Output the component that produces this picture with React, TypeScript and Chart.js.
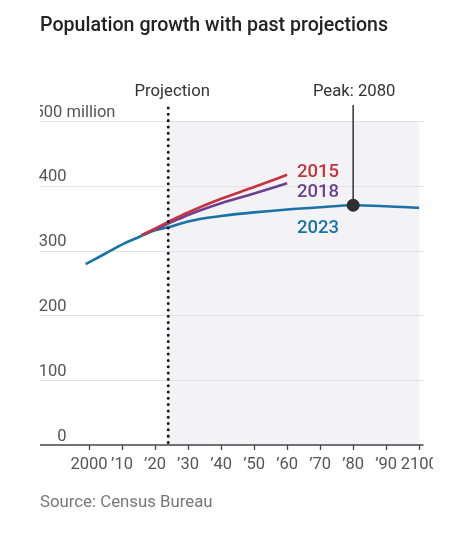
import React, { useEffect, useRef } from "react";
import { Chart, registerables } from "chart.js";

Chart.register(...registerables);

const years2023 = [1999, 2005, 2010, 2015, 2020, 2024, 2030, 2035, 2040, 2050, 2060, 2070, 2080, 2090, 2100];
const pop2023 = [279, 295.5, 309.3, 320.7, 331.5, 336, 345, 350, 353.5, 359, 363.5, 367, 370, 368.5, 366];

const years2015 = [2016, 2020, 2025, 2030, 2040, 2050, 2060];
const pop2015 = [324, 334, 347, 359, 380, 398, 417];

const years2018 = [2016, 2020, 2025, 2030, 2040, 2050, 2060];
const pop2018 = [324, 333, 344, 355, 373, 388, 404];

const xTickValues = [2000, 2010, 2020, 2030, 2040, 2050, 2060, 2070, 2080, 2090, 2100];
const xTickLabels = ["2000", "’10", "’20", "’30", "’40", "’50", "’60", "’70", "’80", "’90", "2100"];
const yTickValues = [0, 100, 200, 300, 400, 500];
const yTickLabels = ["0", "100", "200", "300", "400", "500 million"];

const projectionYear = 2024;
const peakYear = 2080;
const peakValue = 370;

const seriesNames = ["2015", "2018", "2023"];
const seriesColors = ["#c8323f", "#6b3f92", "#1872a5"];

const FONT = "Roboto, 'Noto Sans', sans-serif";

const overlay = {
  id: "overlay",
  beforeDatasetsDraw(chart: any) {
    const { ctx } = chart;
    const xs = chart.scales.x;
    const ys = chart.scales.y;
    const left = chart.chartArea.left;
    const right = chart.chartArea.right;
    ctx.save();
    // shaded projection region
    ctx.fillStyle = "#f3f3f5";
    const px0 = xs.getPixelForValue(projectionYear);
    const px1 = xs.getPixelForValue(2100);
    ctx.fillRect(px0, ys.getPixelForValue(500), px1 - px0, ys.getPixelForValue(0) - ys.getPixelForValue(500));
    // gridlines
    ctx.strokeStyle = "#e2e2e2";
    ctx.lineWidth = 1.2;
    yTickValues.forEach((v) => {
      if (v === 0) return;
      const y = Math.round(ys.getPixelForValue(v)) + 0.5;
      ctx.beginPath();
      ctx.moveTo(left, y);
      ctx.lineTo(right, y);
      ctx.stroke();
    });
    // y tick labels
    ctx.font = `16.5px ${FONT}`;
    ctx.fillStyle = "#555";
    ctx.textBaseline = "alphabetic";
    yTickValues.forEach((v, i) => {
      const y = ys.getPixelForValue(v) - 4.5;
      if (v === 500) {
        ctx.save();
        ctx.beginPath();
        ctx.rect(40, y - 20, 200, 30);
        ctx.clip();
        ctx.textAlign = "left";
        ctx.fillText(yTickLabels[i], 34.5, y);
        ctx.restore();
      } else {
        ctx.textAlign = "right";
        ctx.fillText(yTickLabels[i], 66.5, y);
      }
    });
    // x axis
    const y0 = ys.getPixelForValue(0);
    ctx.strokeStyle = "#444";
    ctx.lineWidth = 1.6;
    ctx.beginPath();
    ctx.moveTo(left, y0);
    ctx.lineTo(right, y0);
    ctx.stroke();
    ctx.lineWidth = 1.3;
    xTickValues.forEach((v) => {
      const x = Math.round(xs.getPixelForValue(v)) + 0.5;
      ctx.beginPath();
      ctx.moveTo(x, y0);
      ctx.lineTo(x, y0 + 5);
      ctx.stroke();
    });
    ctx.save();
    ctx.beginPath();
    ctx.rect(0, 0, 433, 534);
    ctx.clip();
    ctx.fillStyle = "#555";
    ctx.textAlign = "center";
    ctx.textBaseline = "middle";
    xTickValues.forEach((v, i) => {
      ctx.fillText(xTickLabels[i], xs.getPixelForValue(v), y0 + 19.5);
    });
    ctx.restore();
    ctx.restore();
  },
  afterDatasetsDraw(chart: any) {
    const { ctx } = chart;
    const xs = chart.scales.x;
    const ys = chart.scales.y;
    ctx.save();
    // projection dotted line
    const px = xs.getPixelForValue(projectionYear);
    ctx.strokeStyle = "#1a1a1a";
    ctx.lineWidth = 3;
    ctx.lineCap = "round";
    ctx.setLineDash([0.01, 6.3]);
    ctx.beginPath();
    ctx.moveTo(px, 108);
    ctx.lineTo(px, ys.getPixelForValue(0) - 2);
    ctx.stroke();
    ctx.setLineDash([]);
    ctx.lineCap = "butt";
    // peak
    const kx = xs.getPixelForValue(peakYear);
    const ky = ys.getPixelForValue(peakValue);
    ctx.strokeStyle = "#333";
    ctx.lineWidth = 1.5;
    ctx.beginPath();
    ctx.moveTo(kx, 105);
    ctx.lineTo(kx, ky);
    ctx.stroke();
    ctx.fillStyle = "#2e2e2e";
    ctx.beginPath();
    ctx.arc(kx, ky, 6.5, 0, Math.PI * 2);
    ctx.fill();
    // annotation labels
    ctx.font = `16.7px ${FONT}`;
    ctx.fillStyle = "#333";
    ctx.textAlign = "center";
    ctx.textBaseline = "middle";
    ctx.fillText("Projection", px + 4, 92);
    ctx.fillText("Peak: 2080", kx + 1, 92);
    // series labels
    ctx.font = `500 18.5px ${FONT}`;
    ctx.textAlign = "left";
    ctx.fillStyle = seriesColors[0];
    ctx.fillText(seriesNames[0], 297, 172);
    ctx.fillStyle = seriesColors[1];
    ctx.fillText(seriesNames[1], 297, 192);
    ctx.fillStyle = seriesColors[2];
    ctx.fillText(seriesNames[2], 297, 228.5);
    // title & source
    ctx.textBaseline = "alphabetic";
    ctx.fillStyle = "#222";
    ctx.font = `500 19.6px ${FONT}`;
    ctx.fillText("Population growth with past projections", 40, 30.5);
    ctx.fillStyle = "#777";
    ctx.font = `16.8px ${FONT}`;
    ctx.fillText("Source: Census Bureau", 40, 506.5);
    ctx.restore();
  },
};

export default function App() {
  const ref = useRef<HTMLCanvasElement>(null);
  useEffect(() => {
    if (!ref.current) return;
    const mk = (xsArr: number[], ysArr: number[]) => xsArr.map((x, i) => ({ x, y: ysArr[i] }));
    const lineOpts = { borderWidth: 2.6, pointRadius: 0, cubicInterpolationMode: "monotone", fill: false };
    const chart = new Chart(ref.current, {
      type: "line",
      data: {
        datasets: [
          { label: seriesNames[0], data: mk(years2015, pop2015), borderColor: seriesColors[0], ...lineOpts },
          { label: seriesNames[1], data: mk(years2018, pop2018), borderColor: seriesColors[1], ...lineOpts },
          { label: seriesNames[2], data: mk(years2023, pop2023), borderColor: seriesColors[2], ...lineOpts },
        ],
      },
      options: {
        responsive: false,
        animation: false,
        devicePixelRatio: 1,
        layout: { padding: { left: 40, right: 50.5, top: 121, bottom: 89 } },
        plugins: { legend: { display: false }, tooltip: { enabled: false } },
        scales: {
          x: { type: "linear", min: 1985.17, max: 2101.3, display: false },
          y: { type: "linear", min: 0, max: 500, display: false },
        },
      } as any,
      plugins: [overlay],
    });
    return () => chart.destroy();
  }, []);
  return (
    <div style={{ position: "fixed", left: 0, top: 0, width: 474, height: 534, background: "#fff" }}>
      <canvas ref={ref} width={474} height={534} style={{ display: "block", width: 474, height: 534 }} />
    </div>
  );
}
